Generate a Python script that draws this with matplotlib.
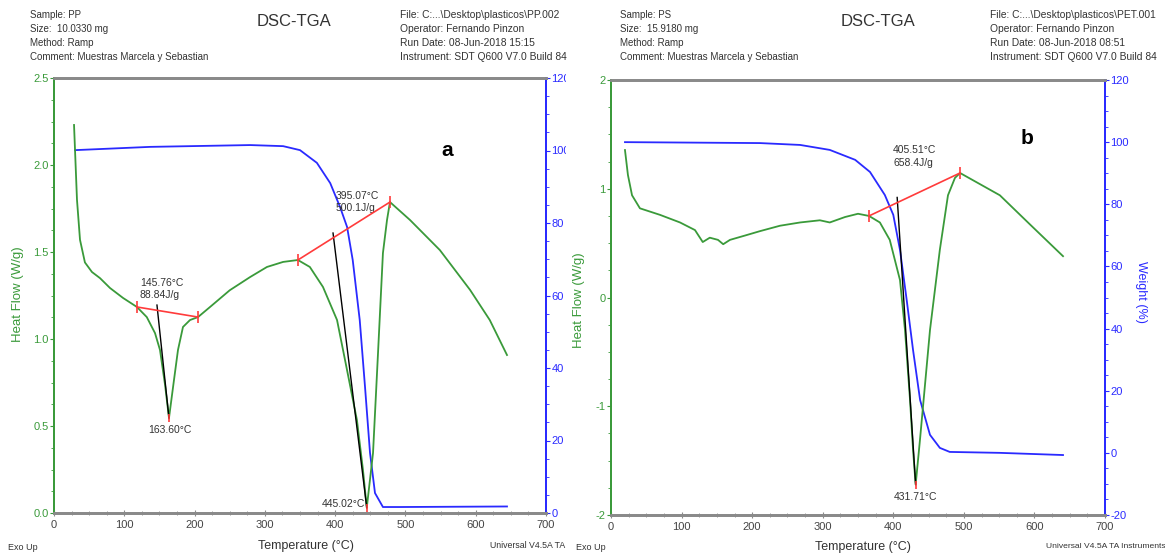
import matplotlib
matplotlib.use("Agg")
from matplotlib import pyplot as plt
from matplotlib.ticker import MultipleLocator, FormatStrFormatter
from matplotlib.transforms import Bbox, TransformedBbox

plt.rcParams['font.family'] = ['Liberation Sans', 'DejaVu Sans']
plt.rcParams['axes.unicode_minus'] = False

W, H = 1165, 554

# PP sample (a) - heat flow
pp_temp = [28.5, 32.7, 37, 44, 54, 65.4, 79.7, 98.2, 118, 132, 143.7, 150.8, 158, 163.6,
           170.7, 176.4, 183.5, 193.5, 204.9, 222, 250, 279, 303, 326, 347, 364, 382.7,
           402.7, 416.9, 431, 439.6, 445.0, 453.9, 461, 468, 473.8, 478, 506.5, 549, 592,
           620, 644.5]
pp_hf = [2.23, 1.80, 1.57, 1.44, 1.385, 1.35, 1.293, 1.236, 1.184, 1.126, 1.034, 0.937,
         0.736, 0.546, 0.764, 0.937, 1.069, 1.109, 1.126, 1.184, 1.28, 1.356, 1.414, 1.443,
         1.454, 1.414, 1.299, 1.109, 0.822, 0.534, 0.247, 0.03, 0.345, 0.92, 1.494, 1.684,
         1.787, 1.684, 1.511, 1.282, 1.109, 0.908]
# PP sample (a) - weight
pp_wt_temp = [30, 136.6, 279, 326, 350, 374, 393, 407, 417, 425, 435, 442.5, 449.6, 456.7,
              468, 492, 644.5]
pp_wt = [100.1, 101, 101.5, 101.2, 100.1, 96.6, 91, 84.4, 78.9, 69.8, 53.2, 34.8, 16.6,
         5.5, 1.65, 1.65, 1.8]

# PS sample (b) - heat flow
ps_temp = [19.8, 24, 29.8, 41, 69.4, 97.8, 119, 130, 140, 151.6, 159, 168.6, 190, 211,
           239.5, 268, 296, 310, 331.6, 350, 365.6, 381, 395, 409.5, 416.6, 423.7, 428,
           431.7, 437.8, 452, 466, 477.5, 487.4, 494.6, 551, 594, 640.5]
ps_hf = [1.356, 1.126, 0.94, 0.82, 0.76, 0.69, 0.62, 0.51, 0.55, 0.53, 0.49, 0.53, 0.57,
         0.61, 0.66, 0.69, 0.71, 0.69, 0.74, 0.77, 0.75, 0.69, 0.53, 0.16, -0.30, -0.94,
         -1.40, -1.72, -1.31, -0.30, 0.44, 0.94, 1.10, 1.145, 0.94, 0.67, 0.38]
# PS sample (b) - weight
ps_wt_temp = [19.8, 211, 268, 310, 346, 367, 388, 400, 409.5, 419, 428, 438, 452, 466, 480,
              551, 640.5]
ps_wt = [100.0, 99.7, 99.1, 97.5, 94.3, 90.4, 83, 76.6, 65.3, 49.2, 33.1, 17, 5.8, 1.6,
         0.3, 0.0, -0.7]

# analysis lines: baseline (start, end) and peak line (top, bottom)
pp_base1 = [(118, 1.184), (205, 1.126)]
pp_peak1 = [(146.5, 1.195), (163.6, 0.546)]
pp_base2 = [(347, 1.454), (478, 1.787)]
pp_peak2 = [(397, 1.609), (445.0, 0.03)]
ps_base = [(365.6, 0.75), (494.6, 1.145)]
ps_peak = [(405.5, 0.92), (431.7, -1.72)]

GREEN = "#3a9a3a"
BLUE = "#2a2aff"
RED = "#ff3b3b"
GRAY = "#8a8a8a"
TXT = "#333333"

fig = plt.figure(figsize=(W / 100, H / 100), dpi=100)
clip_left = TransformedBbox(Bbox([[0, 0], [566 / W, 1]]), fig.transFigure)


def fx(x):
    return x / W


def fy(y):
    return 1 - y / H


def setup(ax, ax2, hf_lim, hf_major, hf_minor, wt_lim):
    ax.set_xlim(0, 700)
    ax.set_ylim(*hf_lim)
    ax2.set_ylim(*wt_lim)
    ax.xaxis.set_major_locator(MultipleLocator(100))
    ax.xaxis.set_minor_locator(MultipleLocator(25))
    ax.yaxis.set_major_locator(MultipleLocator(hf_major))
    ax.yaxis.set_minor_locator(MultipleLocator(hf_minor))
    ax2.yaxis.set_major_locator(MultipleLocator(20))
    ax2.yaxis.set_minor_locator(MultipleLocator(5))
    for a in (ax, ax2):
        a.spines['top'].set_color(GRAY)
        a.spines['top'].set_linewidth(2)
        a.spines['bottom'].set_color(GRAY)
        a.spines['bottom'].set_linewidth(2)
        a.spines['left'].set_color(GREEN)
        a.spines['left'].set_linewidth(1.3)
        a.spines['right'].set_color(BLUE)
        a.spines['right'].set_linewidth(1.3)
        a.patch.set_visible(False)
    ax.tick_params(axis='x', which='major', direction='inout', length=4, color=GRAY,
                   labelsize=8, labelcolor='#444444', pad=3)
    ax.tick_params(axis='x', which='minor', direction='inout', length=3, color=GRAY)
    ax.tick_params(axis='y', which='major', length=3, color=GREEN, labelsize=8,
                   labelcolor=GREEN, pad=1)
    ax.tick_params(axis='y', which='minor', length=2, color=GREEN)
    ax2.tick_params(axis='y', which='major', length=3, color=BLUE, labelsize=8,
                    labelcolor=BLUE, pad=1)
    ax2.tick_params(axis='y', which='minor', length=2, color=BLUE)


def analysis(ax, base, peak, minimum):
    bx, by = zip(*base)
    ax.plot(bx, by, color=RED, lw=1.2, marker='|', ms=8, mew=1.2, zorder=5)
    kx, ky = zip(*peak)
    ax.plot(kx, ky, color='black', lw=1.0, zorder=4)
    ax.plot([minimum[0]], [minimum[1]], color=RED, marker='|', ms=6, mew=1.2, zorder=6)


# ---------------- panel a (PP) ----------------
axa = fig.add_axes([fx(54), fy(513), fx(492), 435 / H])
axa2 = axa.twinx()
setup(axa, axa2, (0, 2.5), 0.5, 0.125, (0, 120))
axa.yaxis.set_major_formatter(FormatStrFormatter('%.1f'))
axa2.plot(pp_wt_temp, pp_wt, color=BLUE, lw=1.3)
axa.plot(pp_temp, pp_hf, color=GREEN, lw=1.3, zorder=3)
axa.set_zorder(axa2.get_zorder() + 1)
analysis(axa, pp_base1, pp_peak1, (163.6, 0.546))
analysis(axa, pp_base2, pp_peak2, (445.0, 0.03))
axa.text(122, 1.35, "145.76°C\n88.84J/g", fontsize=7.5, color=TXT, va='top', ha='left',
         linespacing=1.3)
axa.text(165, 0.475, "163.60°C", fontsize=7.5, color=TXT, va='center', ha='center')
axa.text(401, 1.85, "395.07°C\n500.1J/g", fontsize=7.5, color=TXT, va='top', ha='left',
         linespacing=1.3)
axa.text(443, 0.05, "445.02°C", fontsize=7.5, color=TXT, va='center', ha='right')

# ---------------- panel b (PS) ----------------
axb = fig.add_axes([fx(611), fy(515), fx(494), 435 / H])
axb2 = axb.twinx()
setup(axb, axb2, (-2, 2), 1, 0.25, (-20, 120))
axb2.plot(ps_wt_temp, ps_wt, color=BLUE, lw=1.3)
axb.plot(ps_temp, ps_hf, color=GREEN, lw=1.3, zorder=3)
axb.set_zorder(axb2.get_zorder() + 1)
analysis(axb, ps_base, ps_peak, (431.7, -1.72))
axb.text(399.6, 1.40, "405.51°C\n658.4J/g", fontsize=7.5, color=TXT, va='top', ha='left',
         linespacing=1.3)
axb.text(430.8, -1.834, "431.71°C", fontsize=7.5, color=TXT, va='center', ha='center')

# ---------------- headers and labels ----------------
headers = [
    (30, 400, 294, ["Sample: PP", "Size:  10.0330 mg", "Method: Ramp",
                    "Comment: Muestras Marcela y Sebastian"],
     ["File: C:...\\Desktop\\plasticos\\PP.002", "Operator: Fernando Pinzon",
      "Run Date: 08-Jun-2018 15:15", "Instrument: SDT Q600 V7.0 Build 84"]),
    (620, 990, 878, ["Sample: PS", "Size:  15.9180 mg", "Method: Ramp",
                     "Comment: Muestras Marcela y Sebastian"],
     ["File: C:...\\Desktop\\plasticos\\PET.001", "Operator: Fernando Pinzon",
      "Run Date: 08-Jun-2018 08:51", "Instrument: SDT Q600 V7.0 Build 84"]),
]
for lx, rx, cx, left_lines, right_lines in headers:
    for i, (l, r) in enumerate(zip(left_lines, right_lines)):
        y = 15 + i * 14
        fig.text(fx(lx), fy(y), l, fontsize=7, color=TXT, va='center', ha='left')
        fig.text(fx(rx), fy(y), r, fontsize=7.4, color=TXT, va='center', ha='left')
    fig.text(fx(cx), fy(22), "DSC-TGA", fontsize=12, color=TXT, va='center', ha='center')

fig.text(fx(306), fy(546), "Temperature (°C)", fontsize=9, color=TXT, ha='center',
         va='center')
fig.text(fx(863), fy(547), "Temperature (°C)", fontsize=9, color=TXT, ha='center',
         va='center')
fig.text(fx(8), fy(548), "Exo Up", fontsize=6.5, color=TXT, ha='left', va='center')
fig.text(fx(576), fy(548), "Exo Up", fontsize=6.5, color=TXT, ha='left', va='center')
t_univ = fig.text(fx(490), fy(546), "Universal V4.5A TA Instruments", fontsize=6.3,
                  color=TXT, ha='left', va='center')
t_univ.set_clip_box(clip_left)
t_univ.set_clip_on(True)
fig.text(fx(1046), fy(546), "Universal V4.5A TA Instruments", fontsize=6.1, color=TXT,
         ha='left', va='center')

fig.text(fx(18), fy(294), "Heat Flow (W/g)", fontsize=9.5, color=GREEN, rotation=90,
         ha='center', va='center')
fig.text(fx(579), fy(300), "Heat Flow (W/g)", fontsize=9.5, color=GREEN, rotation=90,
         ha='center', va='center')
fig.text(fx(1141), fy(292), "Weight (%)", fontsize=9, color=BLUE, rotation=270,
         ha='center', va='center')

fig.text(fx(447), fy(150), "a", fontsize=15, fontweight='bold', color='black',
         ha='center', va='center')
fig.text(fx(1027), fy(138), "b", fontsize=15, fontweight='bold', color='black',
         ha='center', va='center')

# the left panel is cut at the edge of the right panel
fig.canvas.draw()
for lab in axa2.get_yticklabels():
    lab.set_clip_box(clip_left)
    lab.set_clip_on(True)

fig.savefig("out.png", dpi=100)
